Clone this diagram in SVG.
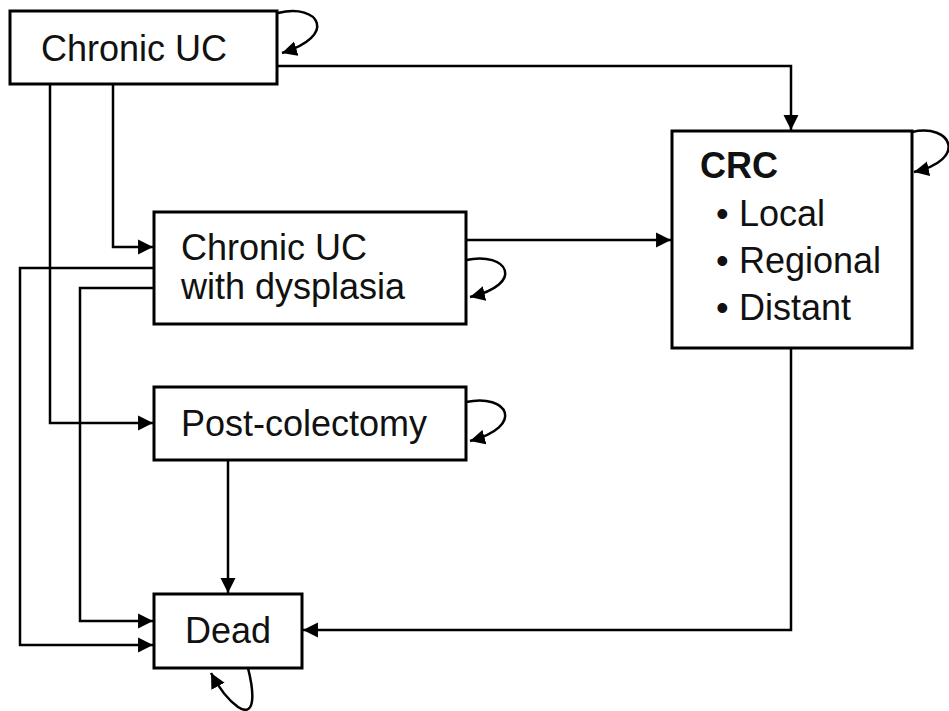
<svg xmlns="http://www.w3.org/2000/svg" width="949" height="711" viewBox="0 0 949 711">
<style>
.box{fill:#fff;stroke:#000;stroke-width:3}
.t{font-family:"Liberation Sans",Arial,sans-serif;font-size:36px;fill:#111}
.b{font-weight:bold}
.c{fill:none;stroke:#000;stroke-width:2.5}
</style>
<defs>
<marker id="ah" markerUnits="userSpaceOnUse" markerWidth="16" markerHeight="16" refX="14" refY="7" orient="auto" viewBox="0 0 15 14">
<path d="M0,0 L14,7 L0,14 z" fill="#000"/>
</marker>
</defs>
<rect width="949" height="711" fill="#fff"/>
<g id="connectors">
<path class="c" d="M277,66 H791 V130" marker-end="url(#ah)"/>
<path class="c" d="M113,84 V247 H153" marker-end="url(#ah)"/>
<path class="c" d="M50,84 V423 H153" marker-end="url(#ah)"/>
<path class="c" d="M466,240 H671" marker-end="url(#ah)"/>
<path class="c" d="M154,268 H20 V645 H153" marker-end="url(#ah)"/>
<path class="c" d="M154,288 H80 V621 H153" marker-end="url(#ah)"/>
<path class="c" d="M228,460 V593" marker-end="url(#ah)"/>
<path class="c" d="M791,348 V630 H303" marker-end="url(#ah)"/>
<path class="c" d="M278,13 C320,3 338,36 282,53" marker-end="url(#ah)"/>
<path class="c" d="M466,260 C508,251 526,284 470,297" marker-end="url(#ah)"/>
<path class="c" d="M466,402 C508,393 526,426 470,441" marker-end="url(#ah)"/>
<path class="c" d="M912,132 C952,123 968,160 914,172" marker-end="url(#ah)"/>
<path class="c" d="M248,668 C256,700 253,717 238,707 C228,700 220,690 211,673" marker-end="url(#ah)"/>
</g>
<g id="chronic-uc">
<rect class="box" x="10" y="11" width="267" height="73"/>
<text class="t" x="41" y="61">Chronic UC</text>
</g>
<g id="dysplasia">
<rect class="box" x="154" y="212" width="312" height="112"/>
<text class="t" x="181" y="260">Chronic UC</text>
<text class="t" x="181" y="299">with dysplasia</text>
</g>
<g id="post-colectomy">
<rect class="box" x="154" y="387" width="312" height="73"/>
<text class="t" x="181" y="436">Post-colectomy</text>
</g>
<g id="dead">
<rect class="box" x="154" y="594" width="148" height="74"/>
<text class="t" x="185" y="643">Dead</text>
</g>
<g id="crc">
<rect class="box" x="672" y="131" width="240" height="217"/>
<text class="t b" x="700" y="178">CRC</text>
<text class="t" x="716" y="226">•</text>
<text class="t" x="739" y="226">Local</text>
<text class="t" x="716" y="273">•</text>
<text class="t" x="739" y="273">Regional</text>
<text class="t" x="716" y="320">•</text>
<text class="t" x="739" y="320">Distant</text>
</g>
</svg>
